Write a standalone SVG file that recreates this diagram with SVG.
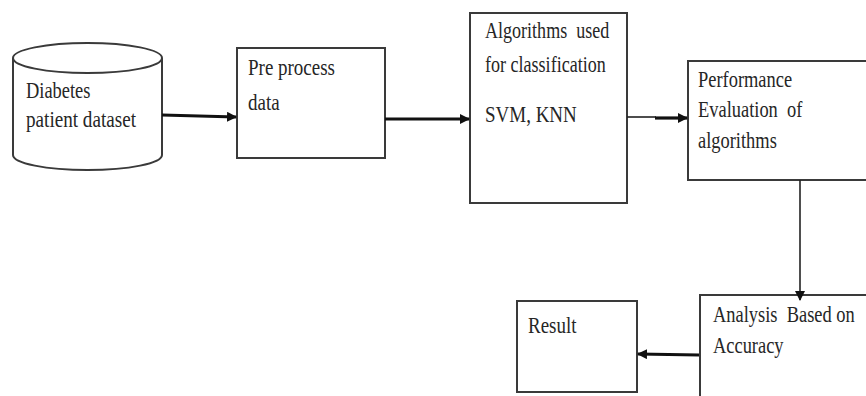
<svg xmlns="http://www.w3.org/2000/svg" width="866" height="396" viewBox="0 0 866 396">
  <style>
    .box { fill: #ffffff; stroke: #3a3a3a; stroke-width: 2; }
    .lbl { font-family: "Liberation Serif", "Times New Roman", serif; font-size: 19px; fill: #262626; }
    .thick { stroke: #111; stroke-width: 3.2; fill: none; }
    .thin { stroke: #222; stroke-width: 1.6; fill: none; }
  </style>
  <defs>
    <marker id="arrow" viewBox="0 0 10 10" refX="9" refY="5" markerWidth="10" markerHeight="10" markerUnits="userSpaceOnUse" orient="auto">
      <path d="M0,0 L10,5 L0,10 z" fill="#111"/>
    </marker>
  </defs>
  <rect width="866" height="396" fill="#ffffff"/>

  <!-- dataset cylinder -->
  <g id="dataset">
    <path class="box" d="M13,58 L13,155 A74.5,15 0 0 0 162,155 L162,58"/>
    <ellipse class="box" cx="87.5" cy="58" rx="74.5" ry="15"/>
    <text class="lbl" transform="translate(26,98) scale(0.97,1.18)">Diabetes</text>
    <text class="lbl" transform="translate(26,127) scale(1,1.18)" textLength="110" lengthAdjust="spacingAndGlyphs">patient dataset</text>
  </g>

  <g id="preprocess">
    <rect class="box" x="237" y="48" width="148" height="110"/>
    <text class="lbl" transform="translate(248,75) scale(1,1.18)">Pre process</text>
    <text class="lbl" transform="translate(248,110) scale(1,1.18)">data</text>
  </g>

  <g id="algorithms">
    <rect class="box" x="470" y="13" width="157" height="190"/>
    <text class="lbl" transform="translate(485,38) scale(0.95,1.18)" xml:space="preserve">Algorithms  used</text>
    <text class="lbl" transform="translate(485,72) scale(0.95,1.18)">for classification</text>
    <text class="lbl" transform="translate(485,122) scale(1,1.18)">SVM, KNN</text>
  </g>

  <g id="evaluation">
    <rect class="box" x="688" y="61" width="190" height="119"/>
    <text class="lbl" transform="translate(698,87) scale(0.97,1.18)">Performance</text>
    <text class="lbl" transform="translate(698,117) scale(0.97,1.18)" xml:space="preserve">Evaluation  of</text>
    <text class="lbl" transform="translate(698,148) scale(0.97,1.18)">algorithms</text>
  </g>

  <g id="analysis">
    <rect class="box" x="700" y="295" width="180" height="110"/>
    <text class="lbl" transform="translate(713,322) scale(0.97,1.18)" xml:space="preserve">Analysis  Based on</text>
    <text class="lbl" transform="translate(713,353) scale(0.97,1.18)">Accuracy</text>
  </g>

  <g id="result">
    <rect class="box" x="517" y="301" width="120" height="91"/>
    <text class="lbl" transform="translate(528,333) scale(1,1.18)">Result</text>
  </g>

  <g id="connectors">
    <line class="thick" x1="162" y1="115" x2="236" y2="117" marker-end="url(#arrow)"/>
    <line class="thick" x1="385" y1="119" x2="469" y2="119" marker-end="url(#arrow)"/>
    <line class="thin" x1="627" y1="117" x2="656" y2="117"/>
    <line class="thick" x1="655" y1="118" x2="687" y2="118" marker-end="url(#arrow)"/>
    <line class="thin" x1="800" y1="180" x2="800" y2="300" marker-end="url(#arrow)"/>
    <line class="thick" x1="699" y1="355" x2="638" y2="354" marker-end="url(#arrow)"/>
  </g>
</svg>
